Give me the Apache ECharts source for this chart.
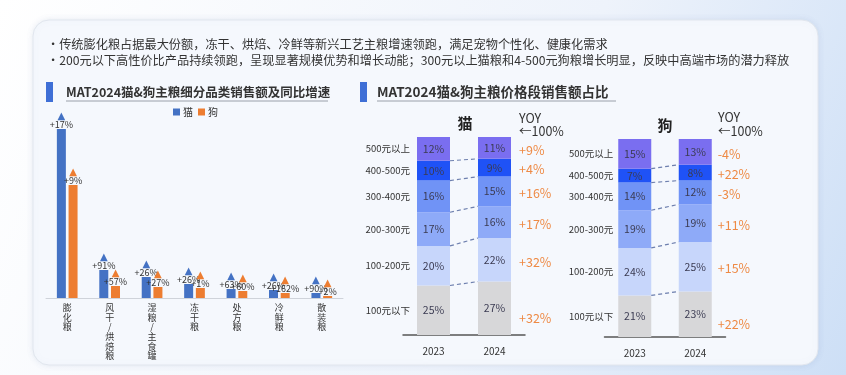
<!DOCTYPE html>
<html><head><meta charset="utf-8">
<script src="https://cdn.jsdelivr.net/npm/echarts@6/dist/echarts.min.js"></script>
<style>html,body{margin:0;padding:0;background:#fff}#c{width:846px;height:375px}</style>
</head><body><div id="c"></div>
<script>
// ---- Data ----
const categories = ['膨化粮','风干/烘焙粮','湿粮/主食罐','冻干粮','处方粮','冷鲜粮','散装粮'];
const catSales = [169, 28, 21, 14, 9, 8, 5];
const dogSales = [113, 12, 11, 10, 7, 5, 2];
const catGrowth = ['+17%','+91%','+26%','+26%','+63%','+26%','+90%'];
const dogGrowth = ['+9%','+57%','+27%','+1%','+60%','+162%','+2%'];

const years = ['2023','2024'];
const priceBands = ['100元以下','100-200元','200-300元','300-400元','400-500元','500元以上'];
const catShare2023 = [25, 20, 17, 16, 10, 12];
const catShare2024 = [27, 22, 16, 15, 9, 11];
const catYoy = ['+32%','+32%','+17%','+16%','+4%','+9%'];
const dogShare2023 = [21, 24, 19, 14, 7, 15];
const dogShare2024 = [23, 25, 19, 12, 8, 13];
const dogYoy = ['+22%','+15%','+11%','-3%','+22%','-4%'];

const notes = [
  '·传统膨化粮占据最大份额，冻干、烘焙、冷鲜等新兴工艺主粮增速领跑，满足宠物个性化、健康化需求',
  '·200元以下高性价比产品持续领跑，呈现显著规模优势和增长动能；300元以上猫粮和4-500元狗粮增长明显，反映中高端市场的潜力释放'
];
const titleLeft = 'MAT2024猫&狗主粮细分品类销售额及同比增速';
const titleRight = 'MAT2024猫&狗主粮价格段销售额占比';

// ---- Style ----
const FONT = '"Noto Sans CJK SC", "Noto Sans", sans-serif';
const CAT_C = '#4472c4', DOG_C = '#ed7d31';
const bandColors = ['#d7d7d9', '#c7d6fb', '#8eaaf8', '#7093f6', '#1f52f6', '#7a6ef0'];
const BAR_W = 33;

const chart = echarts.init(document.getElementById('c'), null, {renderer: 'canvas'});

function growthLabel(growth, color) {
  return {
    show: true, position: 'top', distance: 0,
    formatter: p => '{t|▲}\n{v|' + growth[p.dataIndex] + '}',
    rich: {
      t: {fontSize: 10, lineHeight: 8, color: color, fontFamily: 'DejaVu Sans'},
      v: {fontSize: 9, lineHeight: 9, color: '#333', fontFamily: FONT}
    }
  };
}

function stackSeries(v23, v24, gi, stackName) {
  return priceBands.map((b, i) => ({
    type: 'bar', name: b, stack: stackName, xAxisIndex: gi, yAxisIndex: gi,
    barWidth: BAR_W, data: [v23[i], v24[i]],
    itemStyle: {color: bandColors[i]},
    label: {show: true, position: 'inside', formatter: '{c}%', color: '#3b3b52', fontSize: 10.5, fontFamily: FONT},
    silent: true
  }));
}

function overlaySeries(v23, v24, yoy, gi, nameGap, yoyGap) {
  return {
    type: 'custom', xAxisIndex: gi, yAxisIndex: gi, clip: false, z: 5, silent: true,
    data: [[0, 0]],
    renderItem: (params, api) => {
      const children = [];
      let c23 = 0, c24 = 0;
      for (let i = 0; i < priceBands.length; i++) {
        const b23 = c23, b24 = c24;
        c23 += v23[i]; c24 += v24[i];
        if (i < priceBands.length - 1) {
          const pA = api.coord([0, c23]), pB = api.coord([1, c24]);
          children.push({type: 'line', shape: {x1: pA[0] + BAR_W / 2, y1: pA[1], x2: pB[0] - BAR_W / 2, y2: pB[1]},
            style: {stroke: '#6d7fae', lineWidth: 1.2, lineDash: [4, 3]}});
        }
        const m23 = api.coord([0, (b23 + c23) / 2]);
        children.push({type: 'text', x: m23[0] - BAR_W / 2 - nameGap, y: m23[1],
          style: {text: priceBands[i], align: 'right', verticalAlign: 'middle', fill: '#333', fontSize: 9.5, fontFamily: FONT}});
        const m24 = api.coord([1, (b24 + c24) / 2]);
        children.push({type: 'text', x: m24[0] + BAR_W / 2 + yoyGap, y: m24[1] + (i === 0 ? 10 : 2),
          style: {text: yoy[i], align: 'left', verticalAlign: 'middle', fill: '#ee8a45', fontSize: 12.5, fontFamily: FONT}});
      }
      return {type: 'group', children};
    }
  };
}

const option = {
  animation: false,
  backgroundColor: new echarts.graphic.LinearGradient(0, 0, 1, 1, [
    {offset: 0, color: '#ffffff'}, {offset: 0.6, color: '#eef3fb'}, {offset: 1, color: '#cddff6'}]),
  textStyle: {fontFamily: FONT},
  legend: {
    data: ['猫', '狗'], left: 168, top: 102, itemWidth: 7, itemHeight: 7, itemGap: 5,
    icon: 'rect', textStyle: {fontSize: 10, color: '#333', fontFamily: FONT, padding: [0, 0, 0, -2]}
  },
  grid: [
    {left: 46, width: 297, top: 98, height: 200},
    {left: 403, width: 122, top: 137, height: 198},
    {left: 604.5, width: 121, top: 139, height: 198}
  ],
  xAxis: [
    {gridIndex: 0, type: 'category', data: categories,
      axisLine: {lineStyle: {color: '#cfd3da'}}, axisTick: {show: false},
      axisLabel: {interval: 0, margin: 5, fontSize: 9, lineHeight: 9.6, color: '#333', fontFamily: FONT,
        formatter: v => v.split('').join('\n')}},
    {gridIndex: 1, type: 'category', data: years,
      axisLine: {lineStyle: {color: '#555', width: 1.5}}, axisTick: {show: false},
      axisLabel: {margin: 11, fontSize: 10, color: '#333', fontFamily: FONT}},
    {gridIndex: 2, type: 'category', data: years,
      axisLine: {lineStyle: {color: '#555', width: 1.5}}, axisTick: {show: false},
      axisLabel: {margin: 11, fontSize: 10, color: '#333', fontFamily: FONT}}
  ],
  yAxis: [
    {gridIndex: 0, type: 'value', min: 0, max: 200, show: false},
    {gridIndex: 1, type: 'value', min: 0, max: 100, show: false},
    {gridIndex: 2, type: 'value', min: 0, max: 100, show: false}
  ],
  series: [
    {type: 'bar', name: '猫', data: catSales, xAxisIndex: 0, yAxisIndex: 0, barWidth: 9, barGap: '30%',
      itemStyle: {color: CAT_C}, label: growthLabel(catGrowth, CAT_C)},
    {type: 'bar', name: '狗', data: dogSales, xAxisIndex: 0, yAxisIndex: 0, barWidth: 9, barGap: '30%',
      itemStyle: {color: DOG_C}, label: growthLabel(dogGrowth, DOG_C)},
    ...stackSeries(catShare2023, catShare2024, 1, 'cat'),
    ...stackSeries(dogShare2023, dogShare2024, 2, 'dog'),
    overlaySeries(catShare2023, catShare2024, catYoy, 1, 7, 8),
    overlaySeries(dogShare2023, dogShare2024, dogYoy, 2, 5, 6)
  ],
  graphic: [
    {type: 'rect', z: -10, shape: {x: 33, y: 20, width: 785, height: 345, r: 16},
      style: {fill: '#f5f8fd', stroke: '#e1e6ee', lineWidth: 1, shadowBlur: 6, shadowColor: 'rgba(120,140,180,0.15)'}},
    {type: 'text', x: 47, y: 44, style: {text: notes[0], fontSize: 12.2, fill: '#333', fontFamily: FONT, verticalAlign: 'middle'}},
    {type: 'text', x: 47, y: 60, style: {text: notes[1], fontSize: 12.2, fill: '#333', fontFamily: FONT, verticalAlign: 'middle'}},
    {type: 'rect', shape: {x: 46, y: 82, width: 7, height: 20}, style: {fill: '#3f6fd6'}},
    {type: 'text', x: 66, y: 92, style: {text: titleLeft, fontSize: 12.5, fontWeight: 'bold', fill: '#333', fontFamily: FONT, verticalAlign: 'middle'}},
    {type: 'line', shape: {x1: 66, y1: 101, x2: 328, y2: 101}, style: {stroke: '#9aa0aa', lineWidth: 1}},
    {type: 'rect', shape: {x: 360, y: 82, width: 7, height: 20}, style: {fill: '#3f6fd6'}},
    {type: 'text', x: 377, y: 92, style: {text: titleRight, fontSize: 13.5, fontWeight: 'bold', fill: '#333', fontFamily: FONT, verticalAlign: 'middle'}},
    {type: 'line', shape: {x1: 377, y1: 101, x2: 616, y2: 101}, style: {stroke: '#9aa0aa', lineWidth: 1}},
    {type: 'text', x: 465, y: 123, style: {text: '猫', fontSize: 15, fontWeight: 'bold', fill: '#222', fontFamily: FONT, align: 'center', verticalAlign: 'middle'}},
    {type: 'text', x: 519, y: 118, style: {text: 'YOY', fontSize: 12.5, fill: '#333', fontFamily: FONT, verticalAlign: 'middle'}},
    {type: 'text', x: 519, y: 131, style: {text: '←100%', fontSize: 12.5, fill: '#333', fontFamily: FONT, verticalAlign: 'middle'}},
    {type: 'text', x: 665, y: 125, style: {text: '狗', fontSize: 15, fontWeight: 'bold', fill: '#222', fontFamily: FONT, align: 'center', verticalAlign: 'middle'}},
    {type: 'text', x: 718, y: 117, style: {text: 'YOY', fontSize: 12.5, fill: '#333', fontFamily: FONT, verticalAlign: 'middle'}},
    {type: 'text', x: 718, y: 131, style: {text: '←100%', fontSize: 12.5, fill: '#333', fontFamily: FONT, verticalAlign: 'middle'}}
  ]
};
chart.setOption(option);
</script></body></html>
